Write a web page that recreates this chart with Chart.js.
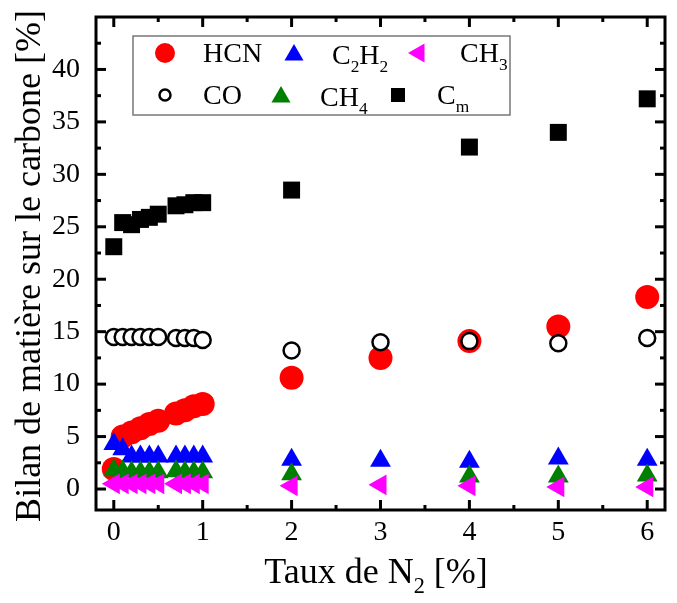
<!DOCTYPE html>
<html lang="fr">
<head>
    <meta charset="UTF-8">
    <title>Bilan de matière sur le carbone</title>
    <script src="https://cdn.jsdelivr.net/npm/chart.js"></script>
    <style>
        html, body { margin: 0; padding: 0; background: #fff; }
        #wrap { width: 677px; height: 603px; }
    </style>
</head>
<body>
    <div id="wrap"><canvas id="chart" width="677" height="603"></canvas></div>

    <script>
        // Taux de N2 [%]
        const tauxN2 = [0, 0.1, 0.2, 0.3, 0.4, 0.5, 0.7, 0.8, 0.9, 1, 2, 3, 4, 5, 6];
        const hcn  = [1.9, 5.0, 5.4, 5.8, 6.2, 6.5, 7.2, 7.5, 7.9, 8.1, 10.6, 12.5, 14.1, 15.5, 18.3];
        const co   = [14.5, 14.5, 14.5, 14.5, 14.5, 14.5, 14.4, 14.4, 14.4, 14.2, 13.2, 14.0, 14.1, 13.9, 14.4];
        const c2h2 = [4.3, 3.8, 3.1, 3.1, 3.1, 3.1, 3.1, 3.1, 3.1, 3.1, 2.8, 2.7, 2.6, 2.9, 2.8];
        const ch4  = [1.8, 1.7, 1.6, 1.6, 1.6, 1.6, 1.7, 1.6, 1.6, 1.6, 1.4, null, 1.2, 1.2, 1.3];
        const ch3  = [0.5, 0.5, 0.5, 0.5, 0.5, 0.5, 0.5, 0.5, 0.5, 0.5, 0.3, 0.4, 0.3, 0.2, 0.2];
        const cm   = [23.1, 25.4, 25.2, 25.7, 25.9, 26.2, 27.0, 27.1, 27.3, 27.3, 28.5, null, 32.6, 34.0, 37.2];

        const xTicks = [0, 1, 2, 3, 4, 5, 6];
        const yTicks = [0, 5, 10, 15, 20, 25, 30, 35, 40];

        const FONT = "'Liberation Serif', 'Times New Roman', serif";
        Chart.defaults.font.family = FONT;
        Chart.defaults.color = '#000';

        const pts = ys => tauxN2.map((x, i) => ({ x: x, y: ys[i] }));

        // draw text with subscripts: parts = [[text, isSub], ...]
        function richText(ctx, parts, x, y, size, align) {
            const sub = size * 0.62;
            let w = 0;
            parts.forEach(p => {
                ctx.font = (p[1] ? sub : size) + 'px ' + FONT;
                w += ctx.measureText(p[0]).width;
            });
            let cx = align === 'center' ? x - w / 2 : x;
            ctx.textAlign = 'left';
            ctx.textBaseline = 'alphabetic';
            parts.forEach(p => {
                ctx.font = (p[1] ? sub : size) + 'px ' + FONT;
                ctx.fillText(p[0], cx, p[1] ? y + size * 0.28 : y);
                cx += ctx.measureText(p[0]).width;
            });
        }

        function marker(ctx, style, x, y, r, fill, stroke, rot) {
            ctx.save();
            ctx.translate(x, y);
            ctx.rotate((rot || 0) * Math.PI / 180);
            ctx.beginPath();
            if (style === 'circle') {
                ctx.arc(0, 0, r, 0, Math.PI * 2);
            } else if (style === 'triangle') {
                ctx.moveTo(0, -r);
                ctx.lineTo(r * 0.866, r * 0.5);
                ctx.lineTo(-r * 0.866, r * 0.5);
                ctx.closePath();
            } else {
                ctx.rect(-r, -r, 2 * r, 2 * r);
            }
            ctx.fillStyle = fill;
            ctx.fill();
            if (stroke) {
                ctx.lineWidth = 2.5;
                ctx.strokeStyle = stroke;
                ctx.stroke();
            }
            ctx.restore();
        }

        const legendItems = [
            { s: 'circle', r: 10, fill: '#ff0000', mx: 165, my: 53, tx: 203, label: [['HCN', false]] },
            { s: 'triangle', r: 11, fill: '#0000ff', mx: 294, my: 55, tx: 332, label: [['C', false], ['2', true], ['H', false], ['2', true]] },
            { s: 'triangle', r: 11, fill: '#ff00ff', rot: -90, mx: 419, my: 53, tx: 460, label: [['CH', false], ['3', true]] },
            { s: 'circle', r: 5.5, fill: '#fff', stroke: '#000', mx: 165, my: 95, tx: 203, label: [['CO', false]] },
            { s: 'triangle', r: 11, fill: '#008000', mx: 281, my: 97, tx: 320, label: [['CH', false], ['4', true]] },
            { s: 'rect', r: 7, fill: '#000', mx: 398, my: 95, tx: 437, label: [['C', false], ['m', true]] }
        ];

        const framePlugin = {
            id: 'frame',
            afterDraw(chart) {
                const ctx = chart.ctx;
                const a = chart.chartArea;
                const xs = chart.scales.x, ys = chart.scales.y;
                ctx.save();
                ctx.strokeStyle = '#000';
                ctx.lineWidth = 3;
                ctx.strokeRect(a.left, a.top, a.right - a.left, a.bottom - a.top);
                ctx.lineCap = 'butt';
                const tick = (x1, y1, x2, y2) => {
                    ctx.beginPath(); ctx.moveTo(x1, y1); ctx.lineTo(x2, y2); ctx.stroke();
                };
                for (let v = 0; v <= 6; v += 0.5) {
                    const px = xs.getPixelForValue(v);
                    const len = Number.isInteger(v) ? 10 : 5;
                    tick(px, a.bottom, px, a.bottom - len);
                    tick(px, a.top, px, a.top + len);
                }
                for (let v = 0; v <= 42.5; v += 2.5) {
                    const py = ys.getPixelForValue(v);
                    const len = v % 5 === 0 ? 10 : 5;
                    tick(a.left, py, a.left + len, py);
                    tick(a.right, py, a.right - len, py);
                }

                // legend
                ctx.lineWidth = 1.5;
                ctx.strokeStyle = '#777';
                ctx.strokeRect(133, 36, 377, 79);
                ctx.fillStyle = '#000';
                legendItems.forEach(it => {
                    marker(ctx, it.s, it.mx, it.my, it.r, it.fill, it.stroke, it.rot);
                    ctx.fillStyle = '#000';
                    richText(ctx, it.label, it.tx, it.my + 9, 28, 'left');
                });

                // axis titles
                ctx.fillStyle = '#000';
                richText(ctx, [['Taux de N', false], ['2', true], [' [%]', false]], 376, 583, 36, 'center');
                ctx.save();
                ctx.translate(40, 266);
                ctx.rotate(-Math.PI / 2);
                richText(ctx, [['Bilan de matière sur le carbone [%]', false]], 0, 0, 36, 'center');
                ctx.restore();
                ctx.restore();
            }
        };

        new Chart(document.querySelector('#chart'), {
            type: 'scatter',
            data: {
                datasets: [
                    { label: 'HCN', data: pts(hcn), pointStyle: 'circle', pointRadius: 12, backgroundColor: '#ff0000', borderWidth: 0, order: 6 },
                    { label: 'CO', data: pts(co), pointStyle: 'circle', pointRadius: 8, backgroundColor: '#ffffff', borderColor: '#000', borderWidth: 2.5, order: 5 },
                    { label: 'C2H2', data: pts(c2h2), pointStyle: 'triangle', pointRadius: 12, backgroundColor: '#0000ff', borderWidth: 0, order: 4 },
                    { label: 'CH4', data: pts(ch4), pointStyle: 'triangle', pointRadius: 12, backgroundColor: '#008000', borderWidth: 0, order: 3 },
                    { label: 'CH3', data: pts(ch3), pointStyle: 'triangle', pointRotation: -90, pointRadius: 12, backgroundColor: '#ff00ff', borderWidth: 0, order: 2 },
                    { label: 'Cm', data: pts(cm), pointStyle: 'rect', pointRadius: 12, backgroundColor: '#000', borderWidth: 0, order: 1 }
                ]
            },
            options: {
                responsive: false,
                animation: false,
                events: [],
                layout: { padding: { top: 17, right: 0, bottom: 0, left: 0 } },
                plugins: { legend: { display: false }, tooltip: { enabled: false } },
                scales: {
                    x: {
                        type: 'linear', min: -0.2, max: 6.2,
                        grid: { display: false, drawTicks: false },
                        border: { display: false },
                        ticks: { font: { size: 28 }, color: '#000', padding: 6, maxRotation: 0 },
                        afterBuildTicks: s => { s.ticks = xTicks.map(v => ({ value: v })); },
                        afterFit: s => { s.height = 93; s.paddingLeft = 0; s.paddingRight = 0; }
                    },
                    y: {
                        type: 'linear', min: -2, max: 45,
                        grid: { display: false, drawTicks: false },
                        border: { display: false },
                        ticks: { font: { size: 28 }, color: '#000', padding: 16 },
                        afterBuildTicks: s => { s.ticks = yTicks.map(v => ({ value: v })); },
                        afterFit: s => { s.width = 96; s.paddingTop = 0; s.paddingBottom = 0; }
                    }
                }
            },
            plugins: [framePlugin]
        });
    </script>
</body>
</html>
